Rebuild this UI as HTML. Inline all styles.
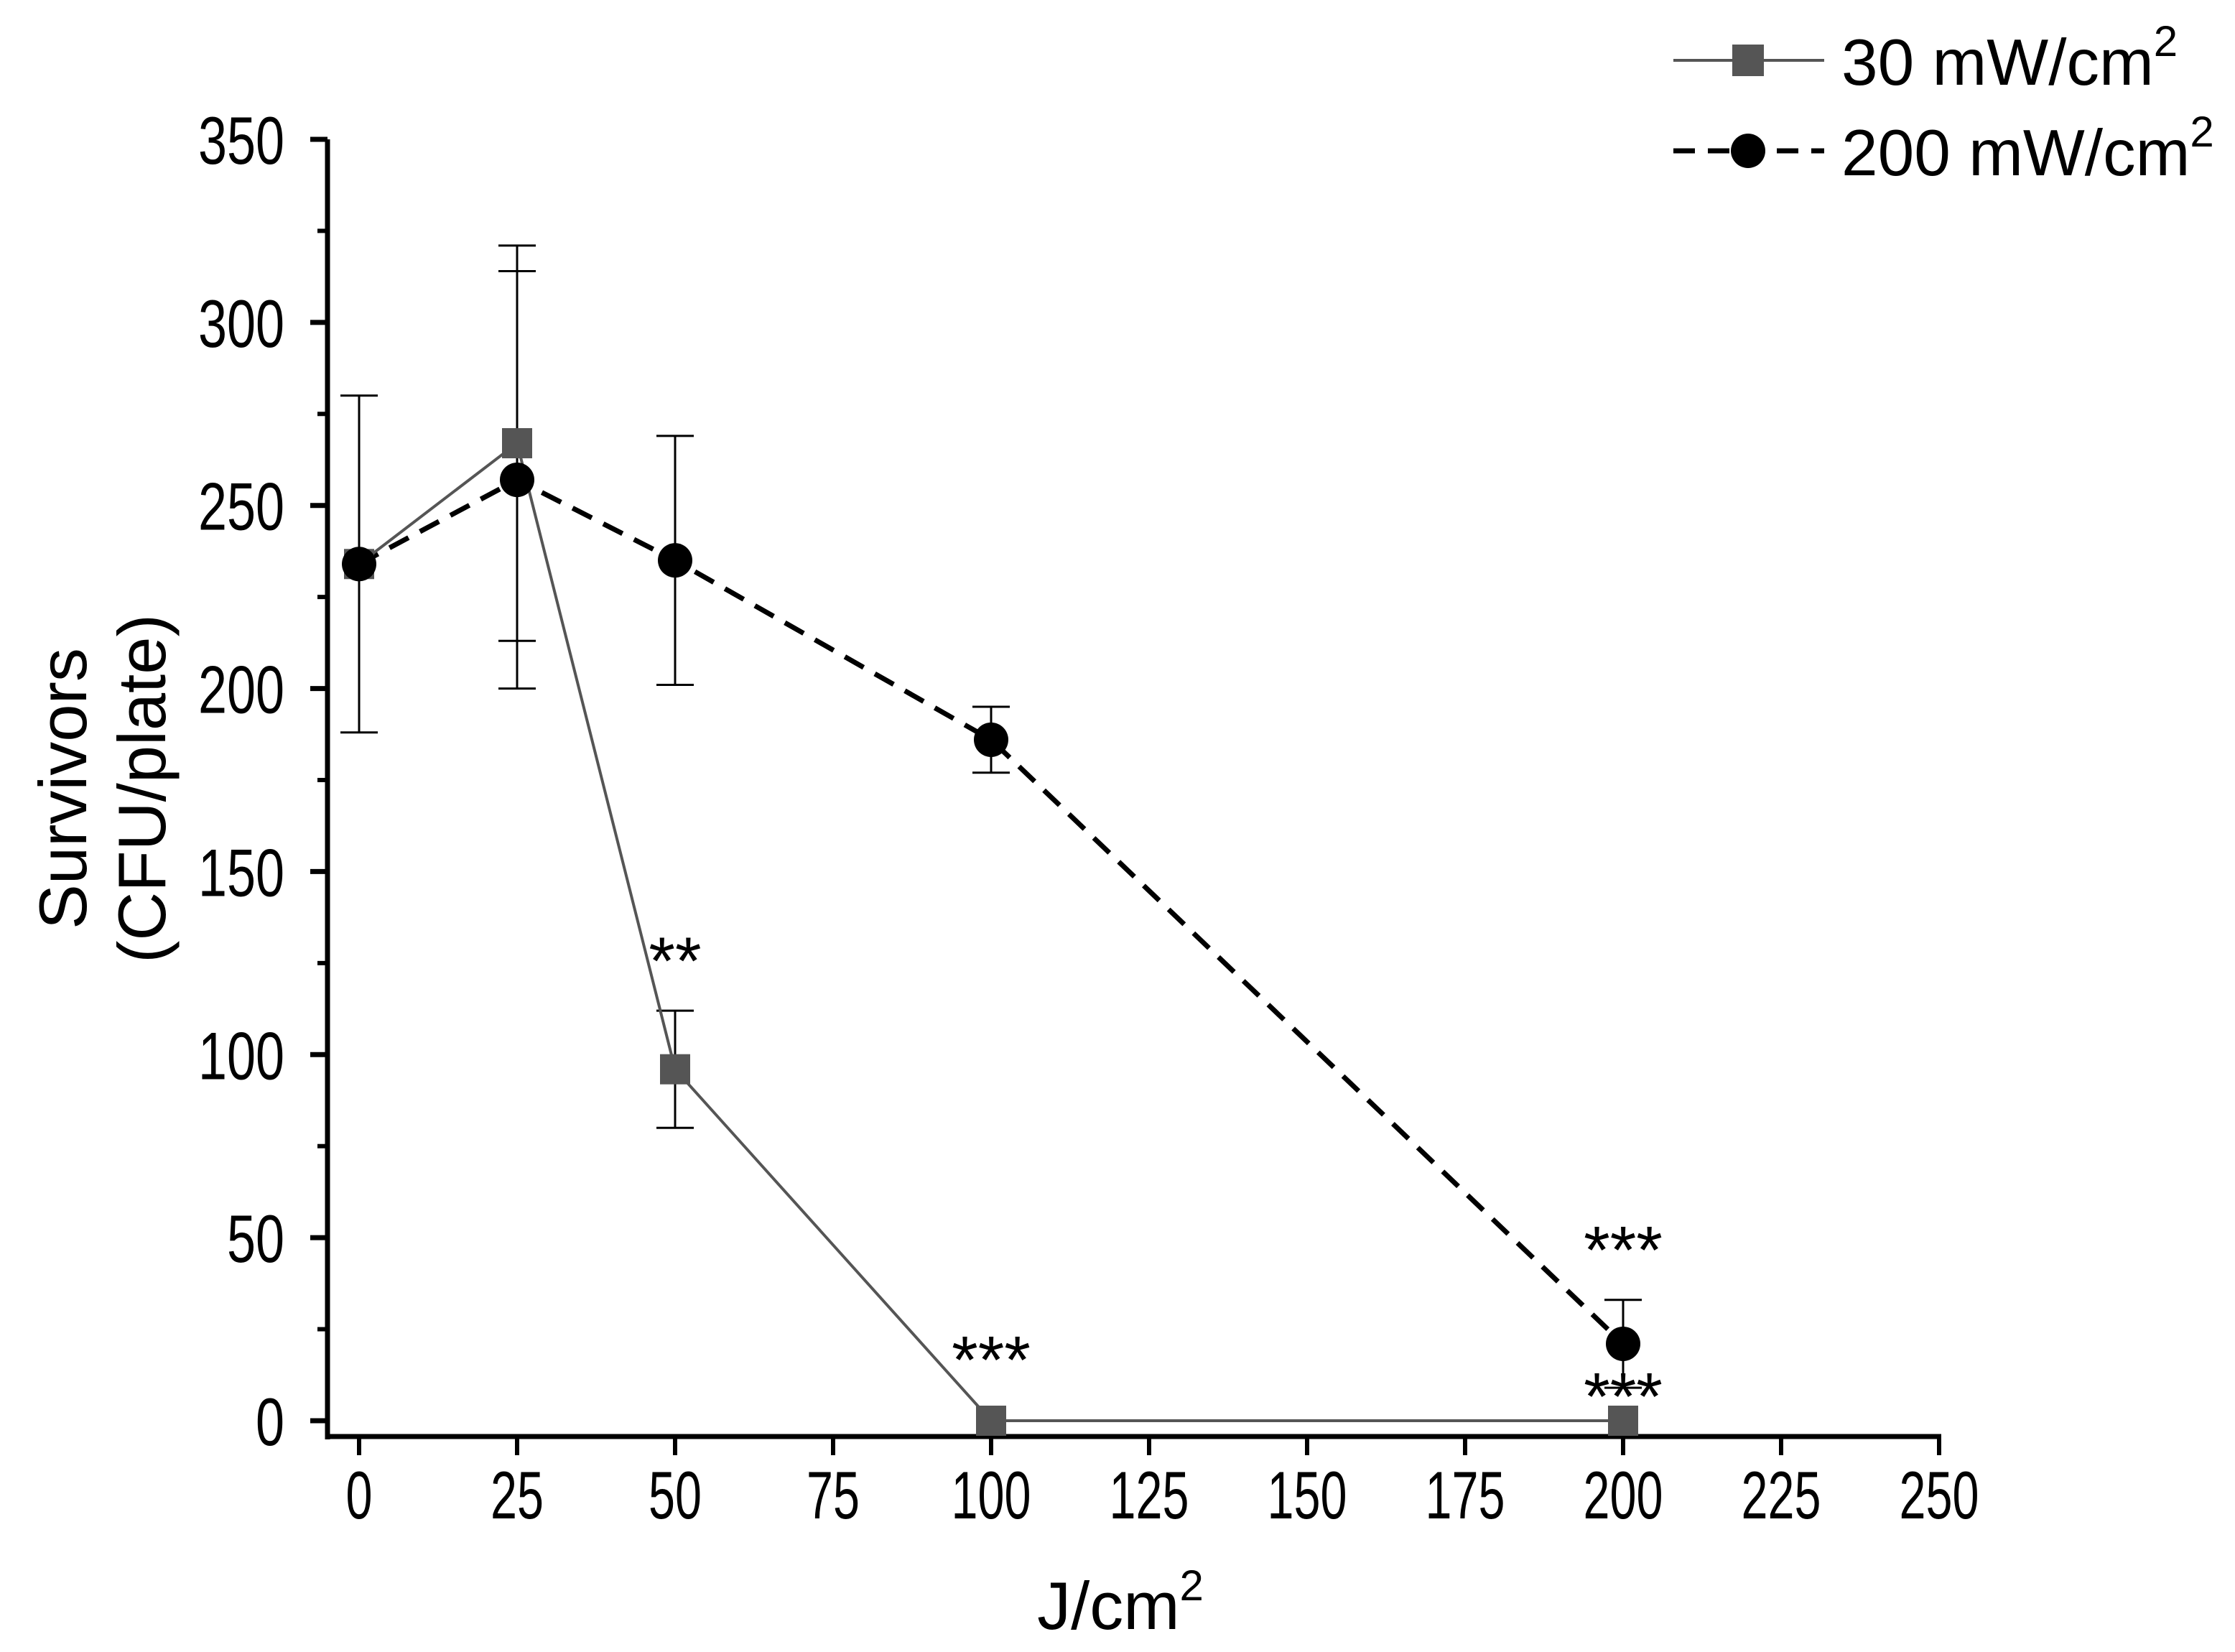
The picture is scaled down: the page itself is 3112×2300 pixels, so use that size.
<!DOCTYPE html>
<html><head><meta charset="utf-8"><style>html,body{margin:0;padding:0;background:#fff}svg{display:block}text{font-family:"Liberation Sans",Arial,sans-serif}</style></head>
<body>
<svg id="chart" width="3112" height="2300" viewBox="0 0 3112 2300" xmlns="http://www.w3.org/2000/svg">
<g id="axes"></g>
<g id="series"></g>
<text x="1560" y="2268" font-size="94" text-anchor="middle">J/cm<tspan font-size="60" dy="-40">2</tspan></text>
<g transform="translate(120,1098) rotate(-90)">
<text x="0" y="0" font-size="94" text-anchor="middle">Survivors</text>
<text x="0" y="110" font-size="94" text-anchor="middle">(CFU/plate)</text>
</g>
<g>
<g>
<line x1="2330" y1="84" x2="2540" y2="84" stroke="#555" stroke-width="4"/>
<rect x="2412" y="62" width="44" height="44" fill="#555"/>
<text x="2564" y="118" font-size="91">30 mW/cm<tspan font-size="60" dy="-40">2</tspan></text>
</g>
<g>
<line x1="2330" y1="210" x2="2540" y2="210" stroke="#000" stroke-width="7" stroke-dasharray="30,18"/>
<circle cx="2434" cy="210" r="24" fill="#000"/>
<text x="2564" y="244" font-size="91">200 mW/cm<tspan font-size="60" dy="-40">2</tspan></text>
</g>
</g>
</svg>
<script>
const xCats = [0, 25, 50, 100, 200];
const s30 = [234, 267, 96, 0, 0];
const s30Err = [0, 54, 16, 0, 0];
const s200 = [234, 257, 235, 186, 21];
const s200Err = [46, 57, 34, 9, 12];
const yTicks = [0, 50, 100, 150, 200, 250, 300, 350];
const xTicks = [0, 25, 50, 75, 100, 125, 150, 175, 200, 225, 250];
const annText = ["**", "***", "***", "***"];
const annX = [50, 100, 200, 200];
const annY = [126, 17, 47, 7];

const NS = "http://www.w3.org/2000/svg";
const X = v => 500 + v * 8.8;
const Y = v => 1978 - v * (1784 / 350);
function mk(tag, attrs, parent) {
  const e = document.createElementNS(NS, tag);
  for (const k in attrs) e.setAttribute(k, attrs[k]);
  parent.appendChild(e);
  return e;
}
const axes = document.getElementById('axes');
const ser = document.getElementById('series');
let e;
e = mk('line', {x1: 456, y1: Y(350), x2: 456, y2: 2004, stroke: '#000', 'stroke-width': 7}, axes);


e = mk('line', {x1: 453, y1: 2000, x2: X(250) + 3, y2: 2000, stroke: '#000', 'stroke-width': 7}, axes);


yTicks.forEach(v => {
  e = mk('line', {x1: 432, y1: Y(v), x2: 456, y2: Y(v), stroke: '#000', 'stroke-width': 7}, axes);
  
  
  if (v < 350) {
    e = mk('line', {x1: 442, y1: Y(v + 25), x2: 456, y2: Y(v + 25), stroke: '#000', 'stroke-width': 6}, axes);
    
    
  }
  const s = String(v);
  e = mk('text', {x: 396, y: Y(v) + 34, 'font-size': 94, 'text-anchor': 'end', textLength: s.length * 40, lengthAdjust: 'spacingAndGlyphs'}, axes);
  e.textContent = s;
  
  
});
xTicks.forEach(v => {
  e = mk('line', {x1: X(v), y1: 2000, x2: X(v), y2: 2026, stroke: '#000', 'stroke-width': 6}, axes);
  
  
  const s = String(v);
  e = mk('text', {x: X(v), y: 2114, 'font-size': 94, 'text-anchor': 'middle', textLength: s.length * 37, lengthAdjust: 'spacingAndGlyphs'}, axes);
  e.textContent = s;
  
  
});
function errs(vals, er, name) {
  vals.forEach((v, i) => {
    if (!er[i]) return;
    const x = X(xCats[i]);
    e = mk('path', {d: `M${x},${Y(v - er[i])}V${Y(v + er[i])}M${x - 26},${Y(v + er[i])}h52M${x - 26},${Y(v - er[i])}h52`, stroke: '#000', 'stroke-width': 3, fill: 'none'}, ser);
    
    
  });
}
errs(s30, s30Err, 'error-bar-30');
errs(s200, s200Err, 'error-bar-200');
e = mk('polyline', {points: s200.map((v, i) => X(xCats[i]) + ',' + Y(v)).join(' '), fill: 'none', stroke: '#000', 'stroke-width': 7, 'stroke-dasharray': '30,18'}, ser);


e = mk('polyline', {points: s30.map((v, i) => X(xCats[i]) + ',' + Y(v)).join(' '), fill: 'none', stroke: '#555', 'stroke-width': 4}, ser);


s30.forEach((v, i) => {
  e = mk('rect', {x: X(xCats[i]) - 21, y: Y(v) - 21, width: 42, height: 42, fill: '#555'}, ser);
  
  
});
s200.forEach((v, i) => {
  e = mk('circle', {cx: X(xCats[i]), cy: Y(v), r: 24, fill: '#000'}, ser);
  
  
});
annText.forEach((t, i) => {
  e = mk('text', {x: X(annX[i]), y: Y(annY[i]) + 34, 'font-size': 94, 'text-anchor': 'middle'}, ser);
  e.textContent = t;
  
  
});
</script>
</body></html>
